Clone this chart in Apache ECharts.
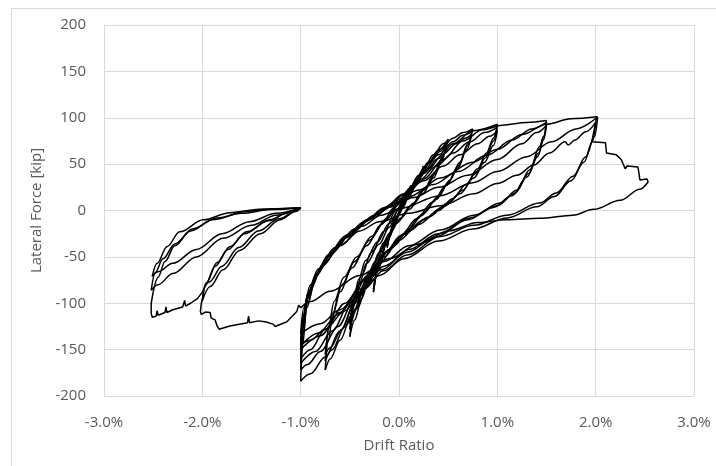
<!DOCTYPE html>
<html>
<head>
<meta charset="utf-8">
<title>Lateral Force vs Drift Ratio</title>
<script src="https://cdn.jsdelivr.net/npm/echarts@6/dist/echarts.min.js"></script>
<style>
  html, body { margin: 0; padding: 0; background: #fff; }
  #chart { width: 716px; height: 466px; }
</style>
</head>
<body>
<div id="chart"></div>
<script>
// Axis ranges and tick spacing
const driftRange = [-3, 3];      // drift ratio, %
const driftStep = 1;
const forceRange = [-200, 200];  // lateral force, kip
const forceStep = 50;

// Hysteresis record, [drift %, force kip], grouped by target drift level
const cycle010 = [[0,0],[0.04,10],[0.08,19],[0.12,26],[0.09,18],[0.04,6],[-0.02,-6],[-0.07,-20],[-0.12,-40],[-0.09,-27],[-0.04,-12],[0.02,3],[0.07,15],[0.12,27],[0.08,16],[0.02,1],[-0.05,-16],[-0.1,-30],[-0.12,-38]];

const cycle025 = [[-0.12,-38],[-0.06,-18],[0.0,-2],[0.08,15],[0.16,31],[0.25,48],[0.2,35],[0.12,19],[0.03,2],[-0.06,-17],[-0.14,-38],[-0.2,-60],[-0.26,-88],[-0.21,-63],[-0.13,-37],[-0.05,-14],[0.04,6],[0.14,26],[0.25,46],[0.19,32],[0.09,13],[-0.02,-7],[-0.12,-32],[-0.2,-57],[-0.26,-85]];

const cycle050 = [[-0.26,-85],[-0.2,-56],[-0.12,-31],[-0.03,-8],[0.05,10],[0.15,28],[0.25,45],[0.35,60],[0.45,72],[0.5,77],[0.45,60],[0.38,42],[0.28,25],[0.15,8],[0.02,-8],[-0.1,-25],[-0.2,-45],[-0.3,-70],[-0.38,-95],[-0.45,-118],[-0.5,-136],[-0.45,-100],[-0.4,-78],[-0.33,-57],[-0.2,-36],[-0.1,-18],[0,2],[0.1,20],[0.2,37],[0.3,52],[0.4,65],[0.48,73],[0.43,55],[0.35,38],[0.25,22],[0.12,5],[0,-10],[-0.12,-30],[-0.22,-52],[-0.32,-78],[-0.42,-105],[-0.5,-128],[-0.46,-96],[-0.41,-74],[-0.34,-54],[-0.22,-34],[-0.1,-14],[0.02,5],[0.12,22],[0.22,38],[0.32,52],[0.42,64],[0.48,70],[0.43,52],[0.35,35],[0.24,18],[0.1,1],[-0.03,-14],[-0.15,-34],[-0.25,-56],[-0.35,-82],[-0.44,-106],[-0.5,-122]];

const cycle075 = [[-0.5,-122],[-0.45,-92],[-0.38,-70],[-0.28,-45],[-0.15,-22],[-0.03,0],[0.1,22],[0.2,38],[0.3,52],[0.42,66],[0.55,78],[0.65,84],[0.75,88],[0.7,72],[0.62,52],[0.52,33],[0.4,15],[0.25,-3],[0.1,-20],[-0.05,-38],[-0.2,-58],[-0.35,-85],[-0.48,-112],[-0.6,-140],[-0.7,-160],[-0.75,-172],[-0.72,-140],[-0.67,-110],[-0.58,-80],[-0.45,-55],[-0.3,-32],[-0.15,-12],[0,8],[0.12,25],[0.25,42],[0.4,60],[0.55,74],[0.65,81],[0.74,85],[0.7,70],[0.6,48],[0.5,30],[0.38,12],[0.22,-6],[0.05,-25],[-0.1,-42],[-0.25,-65],[-0.4,-92],[-0.55,-125],[-0.68,-150],[-0.75,-162],[-0.72,-128],[-0.66,-98],[-0.56,-72],[-0.43,-50],[-0.28,-28],[-0.12,-8],[0.02,10],[0.15,27],[0.3,45],[0.45,61],[0.58,72],[0.67,78],[0.74,82],[0.69,66],[0.6,46],[0.48,27],[0.34,9],[0.18,-9],[0.02,-27],[-0.14,-45],[-0.3,-70],[-0.45,-98],[-0.58,-128],[-0.7,-148],[-0.75,-155]];

const cycle100 = [[-0.75,-155],[-0.7,-122],[-0.6,-88],[-0.48,-62],[-0.33,-38],[-0.18,-15],[-0.05,3],[0.1,22],[0.25,40],[0.4,56],[0.55,72],[0.75,86],[1.0,93],[0.96,78],[0.89,62],[0.8,45],[0.68,28],[0.55,13],[0.4,0],[0.2,-15],[0,-32],[-0.15,-50],[-0.3,-72],[-0.45,-100],[-0.6,-130],[-0.75,-158],[-0.9,-176],[-1.0,-184],[-0.98,-145],[-0.94,-105],[-0.85,-72],[-0.72,-50],[-0.55,-30],[-0.35,-12],[-0.15,3],[0.05,18],[0.2,32],[0.38,48],[0.55,62],[0.72,74],[0.87,84],[1.0,90],[0.96,75],[0.88,57],[0.78,40],[0.65,22],[0.5,8],[0.3,-7],[0.1,-22],[-0.1,-42],[-0.28,-65],[-0.45,-95],[-0.62,-125],[-0.8,-152],[-0.93,-166],[-1.0,-172],[-0.98,-135],[-0.93,-100],[-0.84,-70],[-0.7,-48],[-0.52,-28],[-0.32,-10],[-0.12,4],[0.05,17],[0.25,32],[0.45,48],[0.62,60],[0.8,72],[0.92,80],[1.0,86],[0.96,70],[0.87,52],[0.76,35],[0.62,18],[0.45,4],[0.25,-10],[0.05,-26],[-0.15,-46],[-0.32,-70],[-0.5,-100],[-0.68,-130],[-0.85,-152],[-1.0,-165]];

const cycle150 = [[-1.0,-165],[-0.98,-130],[-0.94,-96],[-0.85,-70],[-0.72,-48],[-0.55,-28],[-0.35,-12],[-0.15,2],[0.05,14],[0.25,34],[0.45,55],[0.65,75],[0.85,87],[1.05,92],[1.3,95],[1.5,97],[1.47,80],[1.43,69],[1.33,44],[1.2,22],[1.03,8],[0.76,-5],[0.42,-21],[0.1,-38],[-0.15,-55],[-0.35,-75],[-0.55,-100],[-0.75,-128],[-0.9,-150],[-1.0,-160],[-0.98,-125],[-0.93,-95],[-0.84,-68],[-0.7,-46],[-0.52,-26],[-0.32,-10],[-0.12,3],[0.1,15],[0.35,28],[0.6,42],[0.9,60],[1.15,76],[1.35,88],[1.5,95],[1.47,78],[1.42,62],[1.32,40],[1.18,19],[1.0,5],[0.72,-8],[0.4,-25],[0.1,-42],[-0.15,-60],[-0.4,-85],[-0.6,-110],[-0.8,-135],[-1.0,-150],[-0.98,-120],[-0.92,-92],[-0.82,-66],[-0.67,-44],[-0.48,-24],[-0.28,-9],[-0.08,4],[0.15,14],[0.4,25],[0.7,38],[1.0,55],[1.25,72],[1.4,84],[1.5,92],[1.47,76],[1.41,58],[1.3,36],[1.15,16],[0.95,3],[0.7,-10],[0.38,-28],[0.08,-45],[-0.18,-64],[-0.42,-88],[-0.62,-112],[-0.82,-132],[-1.0,-146]];

const cycle200a = [[-1.0,-146],[-0.98,-116],[-0.93,-90],[-0.82,-63],[-0.65,-40],[-0.45,-20],[-0.25,-5],[-0.05,8],[0.2,22],[0.42,35],[0.75,52],[1.0,66],[1.25,82],[1.5,93],[1.75,99],[2.02,101],[1.99,80],[1.9,58],[1.77,37],[1.6,19],[1.43,8],[1.1,-5],[0.76,-16],[0.42,-28],[0.08,-48],[-0.16,-65],[-0.36,-85],[-0.55,-108],[-0.75,-128],[-0.9,-140],[-1.0,-145]];

const cycle200b = [[-1.0,-145],[-0.97,-112],[-0.9,-85],[-0.78,-60],[-0.6,-38],[-0.4,-22],[-0.2,-12],[0.1,-3],[0.42,5],[0.76,18],[1.0,29],[1.2,38],[1.37,49],[1.53,62],[1.69,74],[1.72,70.6],[1.79,76],[1.9,85],[2.0,95],[1.97,75],[1.88,52],[1.75,32],[1.58,15],[1.4,4],[1.1,-8],[0.75,-20],[0.4,-33],[0.05,-52],[-0.2,-70],[-0.4,-88],[-0.6,-107],[-0.8,-122],[-1.0,-133]];

const finalPush = [[-1.0,-133],[-0.97,-105],[-0.9,-80],[-0.76,-56],[-0.58,-36],[-0.38,-17],[-0.18,-5],[0.0,2],[0.42,16],[0.75,30],[1.0,42],[1.3,58],[1.55,74],[1.8,88],[2.01,100]];

// Strength loss beyond the 2% peak (stepped record)
const strengthDrop = [[2.01,100],[1.96,74],[2.1,73],[2.11,62],[2.21,60],[2.26,55],[2.3,45],[2.32,48],[2.43,47],[2.45,33],[2.52,34],[2.535,31]];

const finalUnload = [[2.535,31],[2.45,23],[2.25,11],[1.98,1.3],[1.77,-5],[1.43,-8.4],[1.1,-10],[0.8,-13],[0.5,-22],[0.2,-36],[-0.1,-52],[-0.4,-70],[-0.7,-87],[-0.9,-98],[-1.0,-105]];

const residualSlide = [[-1.0,-105],[-1.02,-102],[-1.04,-109],[-1.14,-120],[-1.26,-125],[-1.28,-122.5],[-1.36,-120],[-1.43,-119],[-1.52,-121],[-1.53,-114],[-1.54,-121],[-1.72,-124.5],[-1.83,-128],[-1.85,-124.5],[-1.87,-118],[-1.91,-116],[-1.92,-110],[-1.97,-109.5],[-2.01,-112],[-2.02,-109],[-2.01,-100],[-2.0,-96]];

const leftLoop20 = [[-2.0,-96],[-1.96,-78],[-1.85,-56],[-1.72,-39],[-1.55,-23],[-1.31,-10],[-1.11,-1.3],[-1.0,2.4],[-1.04,-0.2],[-1.21,-10],[-1.41,-25],[-1.62,-43],[-1.79,-64],[-1.92,-82],[-2.0,-97],[-1.97,-80],[-1.87,-60],[-1.74,-42],[-1.57,-25],[-1.33,-11],[-1.12,-2],[-1.0,3],[-1.05,-1],[-1.22,-9],[-1.43,-22],[-1.63,-40],[-1.8,-60],[-1.93,-77],[-2.0,-88]];

const sawtooth25 = [[-2.0,-88],[-2.05,-95],[-2.12,-100],[-2.17,-103],[-2.18,-97],[-2.2,-104],[-2.3,-107],[-2.36,-110],[-2.37,-104],[-2.38,-110],[-2.45,-113],[-2.46,-108],[-2.47,-114],[-2.51,-115],[-2.52,-111],[-2.52,-100],[-2.5,-88]];

const leftLoop25 = [[-2.5,-88],[-2.45,-72],[-2.38,-55],[-2.28,-38],[-2.12,-22],[-1.9,-10],[-1.6,-3],[-1.3,1],[-1.0,3],[-1.25,-5],[-1.5,-16],[-1.79,-30],[-2.06,-50],[-2.3,-68],[-2.45,-80],[-2.52,-86],[-2.48,-67],[-2.4,-52],[-2.28,-36],[-2.1,-20],[-1.85,-8],[-1.55,-1],[-1.25,2],[-1.0,3],[-1.25,-3],[-1.52,-12],[-1.8,-25],[-2.06,-42],[-2.3,-57],[-2.45,-66],[-2.51,-71],[-2.46,-57],[-2.36,-39],[-2.23,-23],[-1.99,-10],[-1.72,-2.3],[-1.38,1.6],[-1.0,3]];

// Curved records are split into half-cycles at each drift reversal so that
// every load peak stays a sharp corner while the branches are smoothed.
const curvedRecords = [cycle010, cycle025, cycle050, cycle075, cycle100, cycle150,
  cycle200a, cycle200b, finalPush, finalUnload, leftLoop20, leftLoop25];
const steppedRecords = [strengthDrop, residualSlide, sawtooth25];

function splitAtReversals(pts) {
  const parts = [];
  let cur = [pts[0]];
  for (let i = 1; i < pts.length; i++) {
    cur.push(pts[i]);
    if (i < pts.length - 1) {
      const d1 = pts[i][0] - pts[i - 1][0];
      const d2 = pts[i + 1][0] - pts[i][0];
      if (d1 * d2 < 0) {
        parts.push(cur);
        cur = [pts[i]];
      }
    }
  }
  parts.push(cur);
  return parts;
}

const lineStyle = { color: '#000000', width: 1.5 };
const series = [];
curvedRecords.forEach(rec => {
  splitAtReversals(rec).forEach(branch => {
    series.push({
      type: 'line', data: branch, showSymbol: false, smooth: 0.35,
      smoothMonotone: 'x', lineStyle: lineStyle, silent: true, animation: false
    });
  });
});
steppedRecords.forEach(rec => {
  series.push({
    type: 'line', data: rec, showSymbol: false, smooth: false,
    lineStyle: lineStyle, silent: true, animation: false
  });
});

const textColor = '#595959';
const fontFamily = '"Open Sans", "Liberation Sans", sans-serif';

const chart = echarts.init(document.getElementById('chart'), null, { renderer: 'canvas' });
chart.setOption({
  backgroundColor: '#ffffff',
  animation: false,
  grid: { left: 104, right: 22, top: 25, bottom: 70, containLabel: false },
  graphic: [{
    type: 'rect', silent: true,
    shape: { x: 11.5, y: 8.5, width: 800, height: 600 },
    style: { fill: 'none', stroke: '#d9d9d9', lineWidth: 1 }
  }],
  xAxis: {
    type: 'value', min: driftRange[0], max: driftRange[1], interval: driftStep,
    name: 'Drift Ratio', nameLocation: 'middle', nameGap: 42,
    nameTextStyle: { color: textColor, fontSize: 15, fontFamily: fontFamily },
    axisLine: { show: false }, axisTick: { show: false },
    axisLabel: { color: textColor, fontSize: 15, fontFamily: fontFamily, margin: 19,
      formatter: v => v.toFixed(1) + '%' },
    splitLine: { show: true, lineStyle: { color: '#d9d9d9', width: 1 } }
  },
  yAxis: {
    type: 'value', min: forceRange[0], max: forceRange[1], interval: forceStep,
    name: 'Lateral Force [kip]', nameLocation: 'middle', nameGap: 59,
    nameTextStyle: { color: textColor, fontSize: 15, fontFamily: fontFamily },
    axisLine: { show: false }, axisTick: { show: false },
    axisLabel: { color: textColor, fontSize: 15, fontFamily: fontFamily, margin: 18 },
    splitLine: { show: true, lineStyle: { color: '#d9d9d9', width: 1 } }
  },
  series: series
});
</script>
</body>
</html>
